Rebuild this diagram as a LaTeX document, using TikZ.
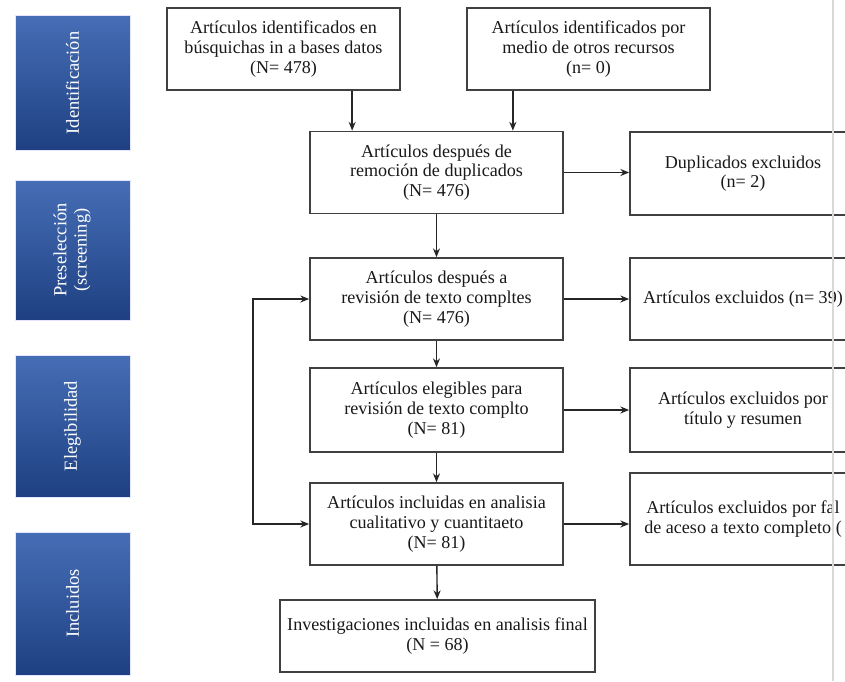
\documentclass[tikz,border=0pt]{standalone}
\usepackage{fontspec}
\setmainfont{Liberation Serif}
\usepackage{graphicx}
\usetikzlibrary{positioning}
\usetikzlibrary{arrows.meta}
\definecolor{stagetop}{RGB}{70,110,182}
\definecolor{stagebot}{RGB}{30,64,130}
\tikzset{
    mybox/.style = {rectangle, draw=black!75, line width=1pt, align=center, inner sep=2pt, minimum width=5.06cm, minimum height=1.64cm, font=\fontsize{10.3}{11.2}\selectfont, text=black!90},
    myboxr/.style = {mybox, minimum width=4.52cm},
    mystage/.style = {rectangle, draw=blue!10, line width=0.4pt, top color=stagetop, bottom color=stagebot, minimum width=2.3cm, inner sep=0pt, text=white, font=\fontsize{10.5}{11.5}\selectfont},
    edgen/.style = {-{Stealth[length=5pt,width=4pt]}, line width=0.8pt, black!85},
    edgenb/.style = {{Stealth[length=5pt,width=4pt]}-{Stealth[length=5pt,width=4pt]}, line width=0.8pt, black!85}
}

\begin{document}
\begin{tikzpicture}[x=0.02cm, y=-0.02cm]
  \clip (0,0) rectangle (845,681);
  \fill[white] (0,0) rectangle (845,681);
  % stages
  \node[mystage, minimum height=2.7cm]  (s1) at (72.5,83) {\rotatebox{90}{Identificación}};
  \node[mystage, minimum height=2.8cm]  (s2) at (72.5,250) {\rotatebox{90}{\begin{tabular}{@{}c@{}}Preselección\\(screening)\end{tabular}}};
  \node[mystage, minimum height=2.84cm] (s3) at (72.5,426) {\rotatebox{90}{Elegibilidad}};
  \node[mystage, minimum height=2.86cm] (s4) at (72.5,603.5) {\rotatebox{90}{Incluidos}};
  % main column
  \node[mybox, minimum width=4.66cm] (A) at (283.5,49) {Artículos identificados en\\búsquichas in a bases datos\\(N= 478)};
  \node[mybox, minimum width=4.86cm] (B) at (588.5,49) {Artículos identificados por\\medio de otros recursos\\(n= 0)};
  \node[mybox] (C) at (436.5,172.5) {Artículos después de\\remoción de duplicados\\(N= 476)};
  \node[mybox] (D) at (436.5,299) {Artículos después a\\revisión de texto compltes\\(N= 476)};
  \node[mybox, minimum height=1.68cm] (E) at (436.5,410) {Artículos elegibles para\\revisión de texto complto\\(N= 81)};
  \node[mybox] (F) at (436.5,524) {Artículos incluidas en analisia\\cualitativo y cuantitaeto\\(N= 81)};
  \node[mybox, minimum width=6.3cm, minimum height=1.44cm] (G) at (437.5,636) {Investigaciones incluidas en analisis final\\(N = 68)};
  % excluded
  \node[myboxr, minimum height=1.66cm] (R1) at (743,173.5) {Duplicados excluidos\\(n= 2)};
  \node[myboxr] (R2) at (743,299) {Artículos excluidos (n= 39)};
  \node[myboxr, minimum height=1.68cm] (R3) at (743,410) {Artículos excluidos por\\título y resumen};
  \node[myboxr, minimum height=1.84cm] (R4) at (743,519) {Artículos excluidos por fal\\de aceso a texto completo (};
  \draw[black!15, line width=0.6pt] (833,0) -- (833,681);
  % arrows
  \coordinate (ca) at ([xshift=0.86cm]C.north west);
  \coordinate (cb) at ([xshift=-1.02cm]C.north east);
  \draw[edgen] (ca |- A.south) -- (ca);
  \draw[edgen] (cb |- B.south) -- (cb);
  \draw[edgen] (C) -- (D);
  \draw[edgen] (D) -- (E);
  \draw[edgen] (E) -- (F);
  \draw[edgen] (F) -- (G);
  \draw[edgen] (C.east) -- (C.east -| R1.west);
  \draw[edgen] (D.east) -- (D.east -| R2.west);
  \draw[edgen] (E.east) -- (E.east -| R3.west);
  \draw[edgen] (F.east) -- (F.east -| R4.west);
  \draw[edgenb] (D.west) -- ++(-1.12cm,0) |- (F.west);
\end{tikzpicture}
\end{document}
